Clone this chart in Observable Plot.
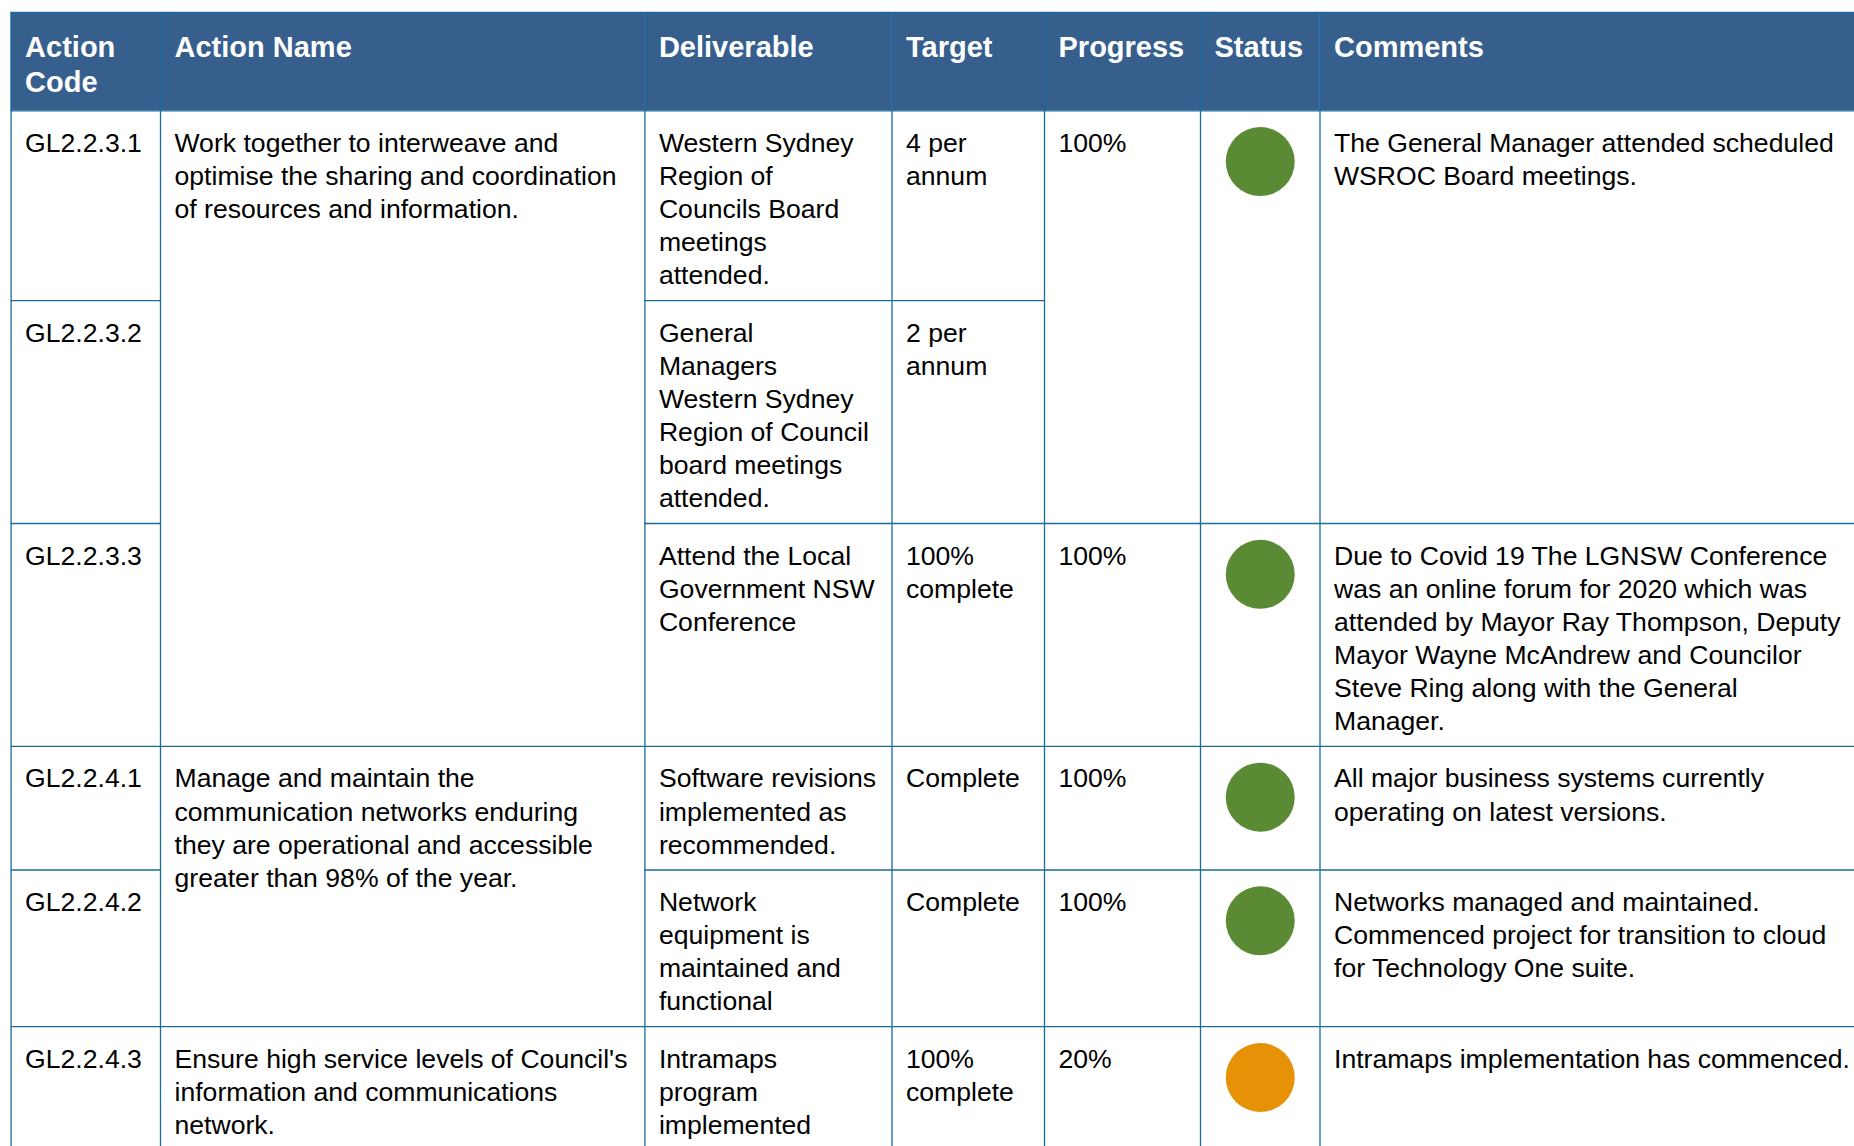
<!DOCTYPE html>
<html><head><meta charset="utf-8">
<script src="https://cdn.jsdelivr.net/npm/d3@7"></script>
<script src="https://cdn.jsdelivr.net/npm/@observablehq/plot@0.6"></script>
<style>html,body{margin:0;padding:0;background:#fff;overflow:hidden}#chart svg{display:block}</style>
</head><body><div id="chart"></div>
<script>
// ---------- DATA ----------
const headers = ["Action\nCode", "Action Name", "Deliverable", "Target", "Progress", "Status", "Comments"];
const codes = ["GL2.2.3.1", "GL2.2.3.2", "GL2.2.3.3", "GL2.2.4.1", "GL2.2.4.2", "GL2.2.4.3"];
// merged cells: [firstRow, lastRow, text]
const actionNames = [
  [0, 2, "Work together to interweave and\noptimise the sharing and coordination\nof resources and information."],
  [3, 4, "Manage and maintain the\ncommunication networks enduring\nthey are operational and accessible\ngreater than 98% of the year."],
  [5, 5, "Ensure high service levels of Council's\ninformation and communications\nnetwork."]
];
const deliverables = [
  "Western Sydney\nRegion of\nCouncils Board\nmeetings\nattended.",
  "General\nManagers\nWestern Sydney\nRegion of Council\nboard meetings\nattended.",
  "Attend the Local\nGovernment NSW\nConference",
  "Software revisions\nimplemented as\nrecommended.",
  "Network\nequipment is\nmaintained and\nfunctional",
  "Intramaps\nprogram\nimplemented"
];
const targets = ["4 per\nannum", "2 per\nannum", "100%\ncomplete", "Complete", "Complete", "100%\ncomplete"];
const progress = [[0, 1, "100%"], [2, 2, "100%"], [3, 3, "100%"], [4, 4, "100%"], [5, 5, "20%"]];
const statuses = [[0, 1, "On track"], [2, 2, "On track"], [3, 3, "On track"], [4, 4, "On track"], [5, 5, "In progress"]];
const statusLevels = ["On track", "In progress"];
const comments = [
  [0, 1, "The General Manager attended scheduled\nWSROC Board meetings."],
  [2, 2, "Due to Covid 19 The LGNSW Conference\nwas an online forum for 2020 which was\nattended by Mayor Ray Thompson, Deputy\nMayor Wayne McAndrew and Councilor\nSteve Ring along with the General\nManager."],
  [3, 3, "All major business systems currently\noperating on latest versions."],
  [4, 4, "Networks managed and maintained.\nCommenced project for transition to cloud\nfor Technology One suite."],
  [5, 5, "Intramaps implementation has commenced."]
];

// ---------- LAYOUT / STYLE ----------
const W = 1854, H = 1146;
const tableLeft = 10.6, headerTop = 12, headerBottom = 110.3;
const colWidths = [149.4, 484.4, 247.1, 152.5, 156, 119.5, 580];
const lineH = 33.1, cellPadV = 24.3, bodyFont = 26.6, headFont = 29, headLineH = 35, padX = 14;
const bodyTextOffset = 36.4, headTextTop = 52;
const headerFill = "#365f8e", gridColor = "#1b6a9c";
const statusColors = ["#5b8a34", "#e69106"];
const fontFamily = "Arial, 'Liberation Sans', sans-serif";

const edges = [tableLeft];
colWidths.forEach(w => edges.push(edges[edges.length - 1] + w));

const single = arr => arr.map((t, i) => [i, i, t]);
const columns = [single(codes), actionNames, single(deliverables), single(targets), progress, statuses, comments];
const nLines = t => t.split("\n").length;

const nRows = codes.length;
const rowLines = d3.range(nRows).map(r => {
  let m = 1;
  columns.forEach((cells, c) => {
    if (c === 5) return;
    cells.forEach(([a, b, t]) => { if (a === r && b === r) m = Math.max(m, nLines(t)); });
  });
  return m;
});
const rowTops = [headerBottom];
rowLines.forEach(n => rowTops.push(rowTops[rowTops.length - 1] + n * lineH + cellPadV));

// cells
const textCells = [], dotCells = [], hLines = [];
columns.forEach((cells, c) => {
  cells.forEach(([a, b, t]) => {
    if (c === 5) dotCells.push({x: (edges[c] + edges[c + 1]) / 2, y: rowTops[a] + 50.8, status: t});
    else textCells.push({x: edges[c] + padX, y: rowTops[a] + bodyTextOffset - 0.71 * bodyFont, text: t});
    hLines.push({x1: edges[c], x2: edges[c + 1], y: rowTops[b + 1]});
  });
});
const headCells = headers.map((h, c) => ({x: edges[c] + padX, y: headTextTop - 0.71 * headFont, text: h, x1: edges[c], x2: edges[c + 1]}));
hLines.push({x1: edges[0], x2: edges[edges.length - 1], y: headerTop});
hLines.push({x1: edges[0], x2: edges[edges.length - 1], y: headerBottom});

const chart = Plot.plot({
  width: W, height: H, margin: 0,
  style: {fontFamily, background: "#fff"},
  x: {domain: [0, W], range: [0, W], axis: null},
  y: {domain: [0, H], range: [0, H], axis: null},
  color: {domain: statusLevels, range: statusColors},
  marks: [
    Plot.rect(headCells, {x1: "x1", x2: "x2", y1: headerTop, y2: headerBottom, fill: headerFill}),
    Plot.ruleX(edges.slice(0, -1), {y1: headerTop, y2: H, stroke: gridColor, strokeWidth: 1.3}),
    Plot.ruleY(hLines, {x1: "x1", x2: "x2", y: "y", stroke: gridColor, strokeWidth: 1.3}),
    Plot.text(headCells, {x: "x", y: "y", text: "text", textAnchor: "start", lineAnchor: "top",
      fill: "#fff", fontWeight: "bold", fontSize: headFont, lineHeight: headLineH / headFont}),
    Plot.text(textCells, {x: "x", y: "y", text: "text", textAnchor: "start", lineAnchor: "top",
      fill: "#000", fontSize: bodyFont, lineHeight: lineH / bodyFont}),
    Plot.dot(dotCells, {x: "x", y: "y", r: 34.5, fill: "status", stroke: null})
  ]
});
document.getElementById("chart").append(chart);
</script>
</body></html>
